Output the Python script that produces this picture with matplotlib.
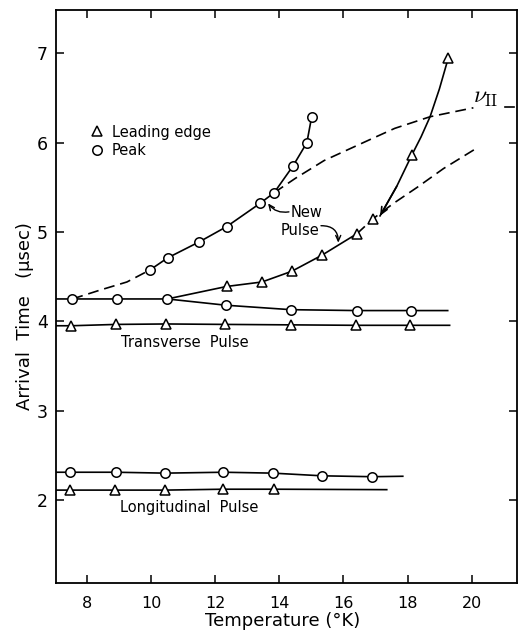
import matplotlib
matplotlib.use('Agg')
import matplotlib.pyplot as plt
from matplotlib.lines import Line2D

# ---------------- data ----------------
XMIN, XMAX = 7.04, 21.41
YMIN, YMAX = 1.07, 7.485

# Transverse pulse: peak (circles) and leading edge (triangles)
tr_peak_x = [7.55, 8.95, 10.51, 12.33, 14.36, 16.42, 18.10]
tr_peak_y = [4.25, 4.25, 4.25, 4.18, 4.13, 4.12, 4.12]
tr_peak_end = (19.25, 4.12)
tr_lead_x = [7.52, 8.92, 10.48, 12.32, 14.35, 16.38, 18.06]
tr_lead_y = [3.95, 3.965, 3.97, 3.965, 3.96, 3.955, 3.955]
tr_lead_end = (19.31, 3.955)

# Longitudinal pulse
lo_peak_x = [7.48, 8.90, 10.44, 12.26, 13.80, 15.33, 16.90]
lo_peak_y = [2.31, 2.31, 2.30, 2.31, 2.30, 2.27, 2.26]
lo_peak_end = (17.85, 2.265)
lo_lead_x = [7.48, 8.88, 10.44, 12.26, 13.82]
lo_lead_y = [2.11, 2.11, 2.11, 2.12, 2.12]
lo_lead_end = (17.35, 2.115)

# New pulse: peak (circles)
np_peak_x = [9.97, 10.52, 11.51, 12.36, 13.40, 13.84, 14.43, 14.86, 15.01]
np_peak_y = [4.575, 4.71, 4.89, 5.06, 5.32, 5.44, 5.74, 6.00, 6.29]
np_peak_dash_x = [7.55, 8.42, 9.25, 9.97]
np_peak_dash_y = [4.25, 4.35, 4.44, 4.575]

# New pulse: leading edge (triangles)
np_lead_x = [12.36, 13.46, 14.39, 15.33, 16.42, 16.93, 18.13, 19.27]
np_lead_y = [4.39, 4.44, 4.56, 4.74, 4.98, 5.15, 5.86, 6.95]
np_lead_solid_x = [10.51, 12.36, 13.46, 14.39, 15.33, 16.42]
np_lead_solid_y = [4.25, 4.39, 4.44, 4.56, 4.74, 4.98]
np_lead_dash_x = [16.42, 16.93, 17.56, 18.30, 19.12, 20.16]
np_lead_dash_y = [4.98, 5.15, 5.32, 5.50, 5.71, 5.94]
np_lead_upper_x = [17.14, 17.66, 18.13, 18.42, 18.70, 18.99, 19.27]
np_lead_upper_y = [5.18, 5.51, 5.86, 6.065, 6.29, 6.60, 6.95]

# second-sound (nu_II) curve
nu_x = [13.84, 14.5, 15.4, 16.8, 17.6, 18.7, 20.05]
nu_y = [5.44, 5.60, 5.80, 6.03, 6.16, 6.29, 6.39]
nu_tail_x = [21.04, 21.33]
nu_tail_y = [6.40, 6.40]

xticks = [8, 10, 12, 14, 16, 18, 20]
yticks = [2, 3, 4, 5, 6, 7]

# ---------------- figure ----------------
fig = plt.figure(figsize=(5.21, 6.30), dpi=100)
ax = fig.add_axes([56/521, 47/630, 461/521, 573/630])

LW = 1.2
DASH = (6.5, 3.5)
mk = dict(ms=6.8, mfc='white', mec='black', mew=1.1, ls='none', zorder=5)

# lines
ax.plot([XMIN] + tr_peak_x + [tr_peak_end[0]],
        [tr_peak_y[0]] + tr_peak_y + [tr_peak_end[1]], color='k', lw=LW)
ax.plot([XMIN] + tr_lead_x + [tr_lead_end[0]],
        [tr_lead_y[0]] + tr_lead_y + [tr_lead_end[1]], color='k', lw=LW)
ax.plot([XMIN] + lo_peak_x + [lo_peak_end[0]],
        [lo_peak_y[0]] + lo_peak_y + [lo_peak_end[1]], color='k', lw=LW)
ax.plot([XMIN] + lo_lead_x + [lo_lead_end[0]],
        [lo_lead_y[0]] + lo_lead_y + [lo_lead_end[1]], color='k', lw=LW)

ax.plot(np_peak_dash_x, np_peak_dash_y, color='k', lw=LW, dashes=DASH)
ax.plot(np_peak_x, np_peak_y, color='k', lw=LW)
ax.plot(np_lead_solid_x, np_lead_solid_y, color='k', lw=LW)
ax.plot(np_lead_dash_x, np_lead_dash_y, color='k', lw=LW, dashes=DASH)
ax.plot(np_lead_upper_x, np_lead_upper_y, color='k', lw=LW)
ax.annotate('', xy=(np_lead_upper_x[0], np_lead_upper_y[0]),
            xytext=(np_lead_upper_x[1], np_lead_upper_y[1]),
            arrowprops=dict(arrowstyle='->,head_length=0.5,head_width=0.22',
                            lw=LW, color='k', shrinkA=0, shrinkB=0))
ax.plot(nu_x, nu_y, color='k', lw=LW, dashes=DASH)
ax.plot(nu_tail_x, nu_tail_y, color='k', lw=LW)

# markers
ax.plot(tr_peak_x, tr_peak_y, marker='o', **mk)
ax.plot(tr_lead_x, tr_lead_y, marker='^', **mk)
ax.plot(lo_peak_x, lo_peak_y, marker='o', **mk)
ax.plot(lo_lead_x, lo_lead_y, marker='^', **mk)
ax.plot(np_peak_x, np_peak_y, marker='o', **mk)
ax.plot(np_lead_x, np_lead_y, marker='^', **mk)

# texts
FS = 10.5
ax.text(9.08, 3.717, 'Transverse  Pulse', fontsize=FS, va='baseline', ha='left')
ax.text(9.04, 1.869, 'Longitudinal  Pulse', fontsize=FS, va='baseline', ha='left')
ax.text(14.34, 5.166, 'New', fontsize=FS, va='baseline', ha='left')
ax.text(14.03, 4.968, 'Pulse', fontsize=FS, va='baseline', ha='left')
ax.annotate('', xy=(13.65, 5.32), xytext=(14.30, 5.225),
            arrowprops=dict(arrowstyle='->,head_length=0.4,head_width=0.18',
                            lw=1.0, color='k', shrinkA=0, shrinkB=0,
                            connectionstyle='arc3,rad=-0.3'))
ax.annotate('', xy=(15.84, 4.88), xytext=(15.30, 5.07),
            arrowprops=dict(arrowstyle='->,head_length=0.4,head_width=0.18',
                            lw=1.0, color='k', shrinkA=0, shrinkB=0,
                            connectionstyle='arc3,rad=-0.5'))
ax.text(20.05, 6.44, r'$\nu_{\rm II}$', fontsize=17, math_fontfamily='cm',
        va='baseline', ha='left')

# legend
handles = [Line2D([], [], marker='^', **mk), Line2D([], [], marker='o', **mk)]
ax.legend(handles, ['Leading edge', 'Peak'], loc='upper left',
          bbox_to_anchor=(0.0725, 0.80), frameon=False, fontsize=FS,
          handlelength=1.0, handletextpad=0.55, borderpad=0,
          borderaxespad=0, labelspacing=0.25)

# axes
ax.set_xlim(XMIN, XMAX)
ax.set_ylim(YMIN, YMAX)
ax.set_xticks(xticks)
ax.set_yticks(yticks)
ax.tick_params(direction='in', length=6, width=1.1, top=True, right=True)
ax.tick_params(axis='x', labelsize=11.5, pad=9)
ax.tick_params(axis='y', labelsize=12.5, pad=6)
for s in ax.spines.values():
    s.set_linewidth(1.3)

fig.text(283/521, 1 - 621/630, 'Temperature (°K)', fontsize=13,
         ha='center', va='center')
fig.text(25/521, 1 - 316/630, 'Arrival  Time   (μsec)', fontsize=13,
         ha='center', va='center', rotation=90)

fig.savefig('out.png', dpi=100)
